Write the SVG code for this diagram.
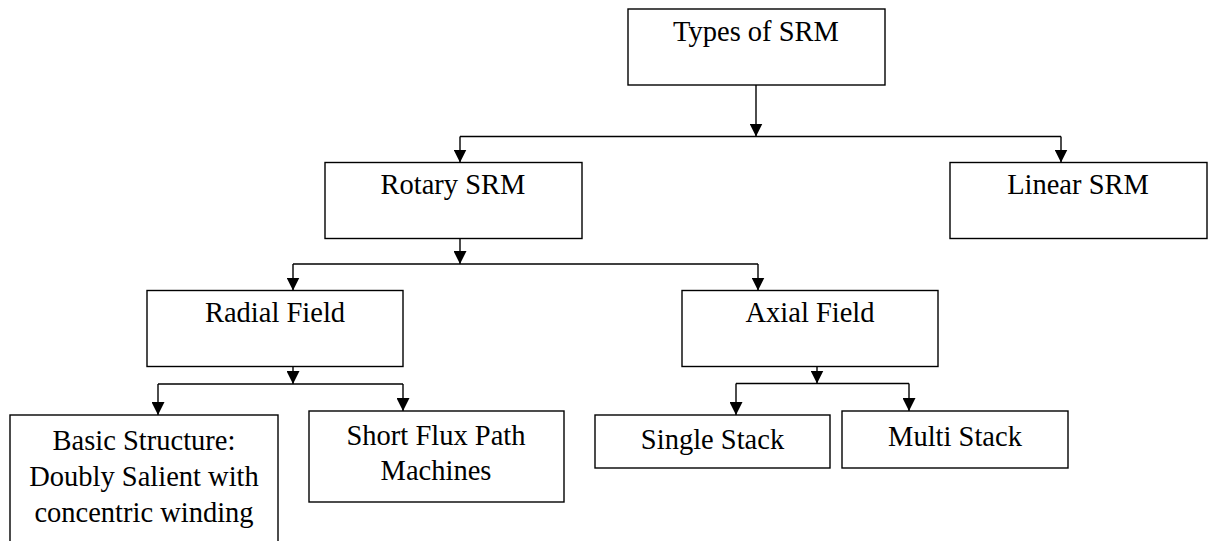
<svg xmlns="http://www.w3.org/2000/svg" width="1210" height="541" viewBox="0 0 1210 541">
<style>
.box{fill:#fff;stroke:#000;stroke-width:1.4}
.lbl{font-family:'Liberation Serif','Times New Roman',Tinos,'DejaVu Serif',serif;font-size:28.5px;fill:#000;text-anchor:middle}
.conn{fill:none;stroke:#000;stroke-width:1.4}
</style>
<defs>
<marker id="arr" markerUnits="userSpaceOnUse" viewBox="0 0 13 13" markerWidth="13" markerHeight="13" refX="13" refY="6.5" orient="auto">
<path d="M0,0 L13,6.5 L0,13 z" fill="#000"/>
</marker>
</defs>
<rect width="1210" height="541" fill="#fff"/>
<g id="n-types"><rect class="box" x="628" y="9" width="257" height="76"/><text class="lbl" font-family="Liberation Serif, serif" x="756" y="41">Types of SRM</text></g>
<g id="n-rotary"><rect class="box" x="325" y="162.5" width="257" height="76"/><text class="lbl" font-family="Liberation Serif, serif" x="453" y="194">Rotary SRM</text></g>
<g id="n-linear"><rect class="box" x="950" y="162.5" width="257" height="76"/><text class="lbl" font-family="Liberation Serif, serif" x="1078" y="194">Linear SRM</text></g>
<g id="n-radial"><rect class="box" x="147" y="290.5" width="256" height="76"/><text class="lbl" font-family="Liberation Serif, serif" x="275" y="322">Radial Field</text></g>
<g id="n-axial"><rect class="box" x="682" y="290.5" width="256" height="76"/><text class="lbl" font-family="Liberation Serif, serif" x="810" y="322">Axial Field</text></g>
<g id="n-basic"><rect class="box" x="10" y="415" width="268" height="140"/><text class="lbl" font-family="Liberation Serif, serif" x="144" y="450">Basic Structure:</text><text class="lbl" font-family="Liberation Serif, serif" x="144" y="486">Doubly Salient with</text><text class="lbl" font-family="Liberation Serif, serif" x="144" y="522">concentric winding</text></g>
<g id="n-short"><rect class="box" x="309" y="411" width="255" height="91"/><text class="lbl" font-family="Liberation Serif, serif" x="436" y="445">Short Flux Path</text><text class="lbl" font-family="Liberation Serif, serif" x="436" y="480">Machines</text></g>
<g id="n-single"><rect class="box" x="595" y="415" width="235" height="53"/><text class="lbl" font-family="Liberation Serif, serif" x="712.5" y="449">Single Stack</text></g>
<g id="n-multi"><rect class="box" x="842" y="411" width="226" height="57"/><text class="lbl" font-family="Liberation Serif, serif" x="955" y="446">Multi Stack</text></g>
<g id="connectors">
<path class="conn" marker-end="url(#arr)" d="M756,85 V136.5"/>
<path class="conn" d="M460,136.5 H1061"/>
<path class="conn" marker-end="url(#arr)" d="M460,136.5 V162.5"/>
<path class="conn" marker-end="url(#arr)" d="M1061,136.5 V162.5"/>
<path class="conn" marker-end="url(#arr)" d="M460,238.5 V264"/>
<path class="conn" d="M293,264 H758"/>
<path class="conn" marker-end="url(#arr)" d="M293,264 V290.5"/>
<path class="conn" marker-end="url(#arr)" d="M758,264 V290.5"/>
<path class="conn" marker-end="url(#arr)" d="M293,366.5 V384"/>
<path class="conn" d="M158,384 H403"/>
<path class="conn" marker-end="url(#arr)" d="M158,384 V415"/>
<path class="conn" marker-end="url(#arr)" d="M403,384 V411"/>
<path class="conn" marker-end="url(#arr)" d="M817,366.5 V383.5"/>
<path class="conn" d="M736,383.5 H909"/>
<path class="conn" marker-end="url(#arr)" d="M736,383.5 V415"/>
<path class="conn" marker-end="url(#arr)" d="M909,383.5 V411"/>
</g>
</svg>
